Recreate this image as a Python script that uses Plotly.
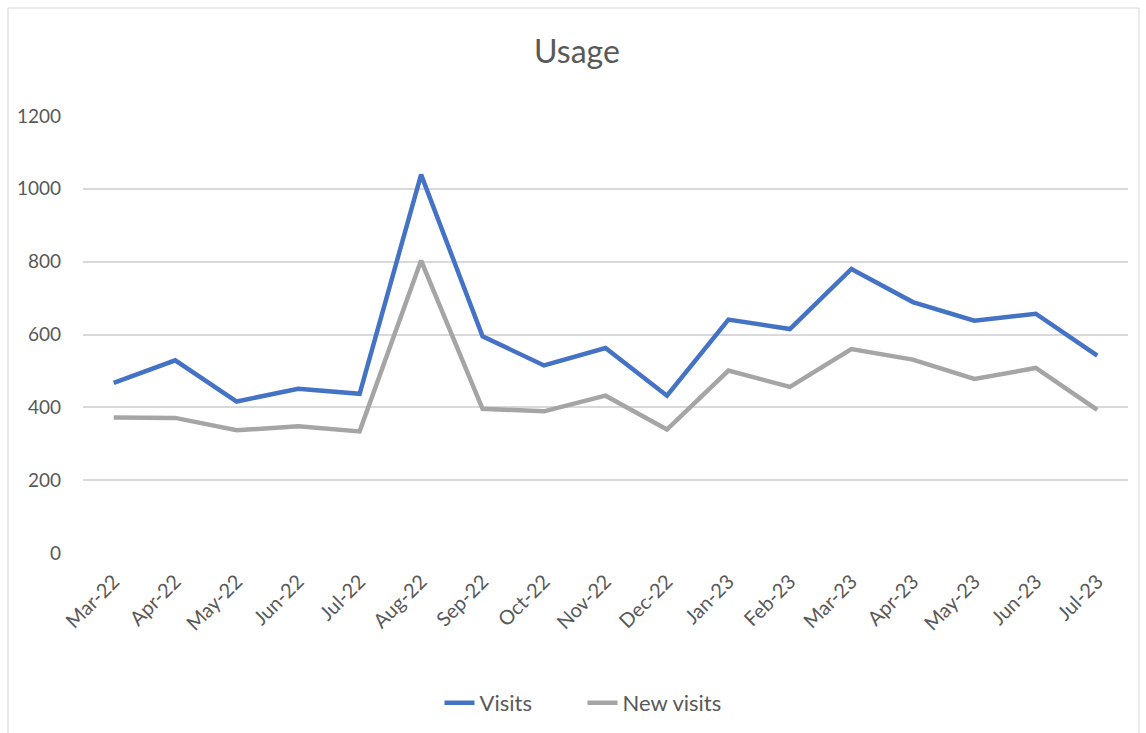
import plotly.graph_objects as go

months = ["Mar-22", "Apr-22", "May-22", "Jun-22", "Jul-22", "Aug-22", "Sep-22", "Oct-22",
          "Nov-22", "Dec-22", "Jan-23", "Feb-23", "Mar-23", "Apr-23", "May-23", "Jun-23", "Jul-23"]
visits = [467, 529, 416, 451, 437, 1039, 595, 515, 563, 432, 641, 615, 780, 689, 638, 657, 542]
new_visits = [372, 371, 337, 348, 334, 803, 396, 389, 432, 339, 501, 456, 560, 531, 478, 508, 393]
y_ticks = [0, 200, 400, 600, 800, 1000, 1200]

FONT = "Lato, 'Open Sans', sans-serif"
TXT = "#595959"

fig = go.Figure()
fig.add_trace(go.Scatter(x=months, y=visits, mode="lines", name="Visits",
                         line=dict(color="#4472C4", width=4.5)))
fig.add_trace(go.Scatter(x=months, y=new_visits, mode="lines", name="New visits",
                         line=dict(color="#A5A5A5", width=4.5)))

fig.update_layout(
    width=1146, height=733,
    margin=dict(l=83, r=18, t=116, b=180, autoexpand=False),
    paper_bgcolor="white", plot_bgcolor="white",
    font=dict(family=FONT, color=TXT, size=18),
    title=dict(text="Usage", x=577 / 1146, xanchor="center", y=1 - 52 / 733, yanchor="middle",
               font=dict(size=32, color=TXT, family=FONT)),
    showlegend=True,
    legend=dict(orientation="h", x=0.478, xanchor="center",
                yref="container", y=1 - 703 / 733, yanchor="middle",
                font=dict(size=22, color=TXT), traceorder="normal",
                entrywidth=98, entrywidthmode="pixels"),
    xaxis=dict(type="category", range=[-0.5, 16.5], tickangle=-45, showgrid=False,
               showline=False, ticks="", tickfont=dict(size=20, color=TXT),
               ticklabelstandoff=12),
    yaxis=dict(range=[0, 1200], tickvals=y_ticks, showgrid=True, gridcolor="#D9D9D9",
               gridwidth=1.5, zeroline=False, showline=False, ticks="",
               tickfont=dict(size=19, color=TXT), ticklabelstandoff=21),
    shapes=[dict(type="rect", xref="paper", yref="paper",
                 x0=(8 - 83) / 1045, x1=(1139 - 83) / 1045,
                 y0=(553 - 760) / 437, y1=(553 - 8) / 437,
                 line=dict(color="#D9D9D9", width=1), layer="below")],
)

fig.write_html("out.html")
